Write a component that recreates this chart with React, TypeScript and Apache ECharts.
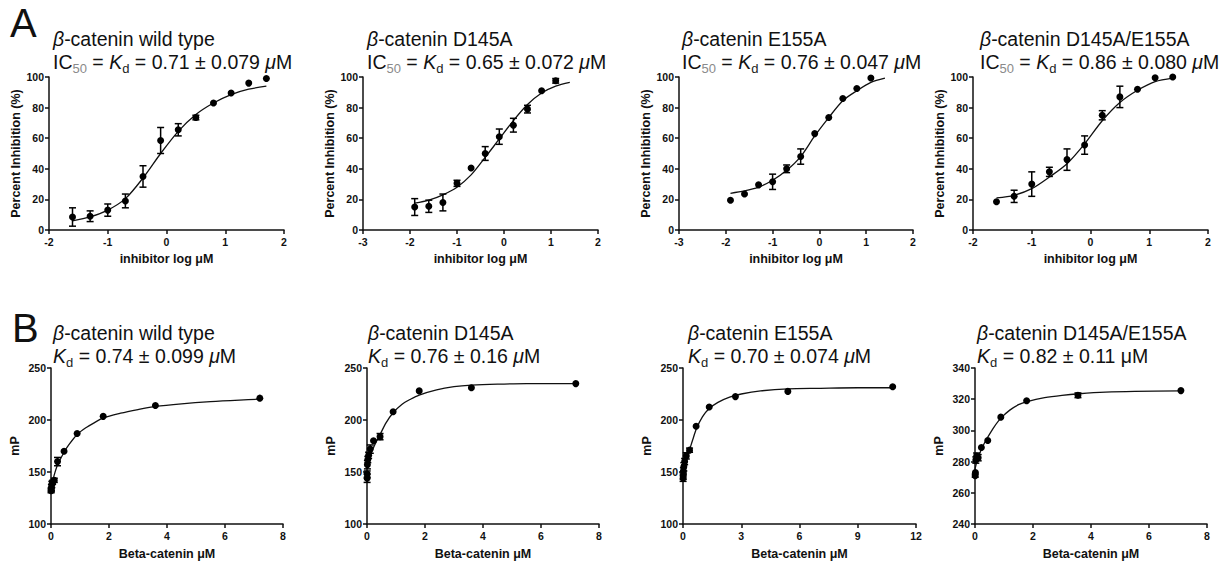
import React, { useEffect, useRef } from 'react';
import * as echarts from 'echarts';

const FONT = "'Liberation Sans', Arial, Helvetica, sans-serif";
const INK = '#111111';

// ---------- Panel A: inhibition (x = inhibitor log µM, y = % inhibition) ----------
const a1X = [-1.6, -1.3, -1.0, -0.7, -0.4, -0.1, 0.2, 0.5, 0.8, 1.1, 1.4, 1.7];
const a1Y = [8.5, 9, 13, 19, 35, 58.5, 65.5, 73.5, 83, 89.5, 96, 99];
const a1E = [6, 3.5, 4, 4.5, 7, 8.5, 4, 1.5, 0, 0, 0, 0];
const a1FitX = [-1.6, -1.3, -1.0, -0.7, -0.4, -0.1, 0.2, 0.5, 0.8, 1.1, 1.4, 1.7];
const a1FitY = [6, 8.5, 13, 20.5, 34, 50, 64.5, 75.5, 83, 88.5, 92, 94];

const a2X = [-1.9, -1.6, -1.3, -1.0, -0.7, -0.4, -0.1, 0.2, 0.5, 0.8, 1.1];
const a2Y = [15, 15.5, 18, 30.5, 40.5, 50, 61, 68.5, 79, 91, 97.5];
const a2E = [5.5, 4, 5.5, 2, 0, 4.5, 5, 4.5, 2.5, 0, 1.5];
const a2FitX = [-1.9, -1.6, -1.3, -1.0, -0.7, -0.4, -0.1, 0.2, 0.5, 0.8, 1.1, 1.4];
const a2FitY = [17.5, 19.5, 23, 28, 36, 47.5, 59.5, 71.5, 82, 89.5, 94, 96.5];

const a3X = [-1.9, -1.6, -1.3, -1.0, -0.7, -0.4, -0.1, 0.2, 0.5, 0.8, 1.1];
const a3Y = [19.5, 23.5, 29.5, 31.5, 40, 48, 63, 73.5, 86, 92.5, 99.3];
const a3E = [0, 0, 0, 5, 2.5, 5, 0, 0, 0, 0, 0];
const a3FitX = [-1.9, -1.6, -1.3, -1.0, -0.7, -0.4, -0.1, 0.2, 0.5, 0.8, 1.1, 1.4];
const a3FitY = [24, 25.5, 28, 32.5, 39, 48, 61.5, 73.5, 84.5, 91, 96.5, 99.3];

const a4X = [-1.6, -1.3, -1.0, -0.7, -0.4, -0.1, 0.2, 0.5, 0.8, 1.1, 1.4];
const a4Y = [18.5, 22, 30, 38, 46, 55.5, 75, 87, 92, 99.5, 100];
const a4E = [0, 4, 8, 3, 7, 6, 3, 7, 0, 0, 0];
const a4FitX = [-1.6, -1.3, -1.0, -0.7, -0.4, -0.1, 0.2, 0.5, 0.8, 1.1, 1.4];
const a4FitY = [21, 22.7, 27, 34.6, 43.3, 56.3, 71.4, 83.3, 91.3, 97, 99.3];

// ---------- Panel B: binding (x = Beta-catenin µM, y = mP) ----------
const b1X = [7.2, 3.6, 1.8, 0.9, 0.45, 0.225, 0.113, 0.056, 0.028, 0.014, 0.007, 0.0035];
const b1Y = [221, 214, 203.5, 187, 170, 160, 142, 140, 138, 135, 133, 132];
const b1E = [0, 0, 0, 0, 0, 4, 2, 2, 3, 3, 2, 2];
const b1FitX = [0, 0.05, 0.1, 0.2, 0.3, 0.45, 0.6, 0.9, 1.2, 1.5, 1.8, 2.4, 3, 3.6, 4.5, 5.5, 6.5, 7.2];
const b1FitY = [133, 140, 146, 155, 161, 169, 175.5, 186, 192.5, 197.5, 202, 206.5, 210, 213, 215.6, 217.7, 219.2, 220];

const b2X = [7.2, 3.6, 1.8, 0.9, 0.45, 0.225, 0.113, 0.056, 0.028, 0.014, 0.007, 0.0035];
const b2Y = [235, 231, 228, 208, 184, 180, 172, 166, 162, 157, 148, 144];
const b2E = [0, 0, 0, 0, 3, 0, 4, 3, 3, 4, 3, 4];
const b2FitX = [0, 0.05, 0.1, 0.2, 0.3, 0.45, 0.65, 0.9, 1.2, 1.5, 1.8, 2.4, 3.0, 3.6, 4.5, 5.5, 7.2];
const b2FitY = [155, 160, 165, 172, 178, 186, 197, 207, 215, 220, 224, 229, 232, 233.5, 234.5, 235, 235];

const b3X = [10.8, 5.4, 2.7, 1.35, 0.675, 0.3375, 0.169, 0.084, 0.042, 0.021, 0.0105, 0.005];
const b3Y = [232, 227.5, 222.5, 212.5, 194, 171, 165.5, 160, 155, 151, 146, 144];
const b3E = [0, 0, 0, 0, 0, 2, 3, 3, 4, 3, 3, 3];
const b3FitX = [0, 0.1, 0.2, 0.35, 0.5, 0.7, 1.0, 1.35, 1.8, 2.4, 3.0, 4.0, 5.4, 7.0, 9.0, 10.8];
const b3FitY = [146, 156, 163, 172, 181, 192, 203, 211, 217, 222, 225, 228, 230, 230.5, 231, 231];

const b4X = [7.1, 3.55, 1.78, 0.89, 0.44, 0.22, 0.11, 0.055, 0.028, 0.014, 0.007];
const b4Y = [325.5, 322.5, 319, 308.5, 293.5, 289, 282.5, 283.5, 281, 273, 271];
const b4E = [0, 1.5, 0, 0, 0, 0, 2, 2, 2, 0, 1];
const b4FitX = [0, 0.05, 0.1, 0.2, 0.3, 0.45, 0.65, 0.9, 1.2, 1.5, 1.8, 2.4, 3.0, 3.6, 4.5, 5.5, 7.1];
const b4FitY = [275, 279, 282, 287, 291, 296, 302, 308, 313, 316.5, 318.5, 321, 322.5, 323.5, 324.5, 325, 325.3];

// ---------- texts ----------
const titles = [
  '{it|β}-catenin wild type\nIC{s50|50} = {it|K}{sd|d} = 0.71 ± 0.079 {it|μ}M',
  '{it|β}-catenin D145A\nIC{s50|50} = {it|K}{sd|d} = 0.65 ± 0.072 {it|μ}M',
  '{it|β}-catenin E155A\nIC{s50|50} = {it|K}{sd|d} = 0.76 ± 0.047 {it|μ}M',
  '{it|β}-catenin D145A/E155A\nIC{s50|50} = {it|K}{sd|d} = 0.86 ± 0.080 {it|μ}M',
  '{it|β}-catenin wild type\n{it|K}{sd|d} = 0.74 ± 0.099 {it|μ}M',
  '{it|β}-catenin D145A\n{it|K}{sd|d} = 0.76 ± 0.16 {it|μ}M',
  '{it|β}-catenin E155A\n{it|K}{sd|d} = 0.70 ± 0.074 {it|μ}M',
  '{it|β}-catenin D145A/E155A\n{it|K}{sd|d} = 0.82 ± 0.11 μM',
];
const xNames = ['inhibitor log μM', 'Beta-catenin μM'];
const yNames = ['Percent Inhibition (%)', 'mP'];

// ---------- layout (pixels) ----------
const layout = [
  { left: 49, top: 77, width: 235, height: 153, tl: 53, tt: 28 },
  { left: 363, top: 77, width: 235, height: 153, tl: 367, tt: 28 },
  { left: 679, top: 77, width: 234, height: 153, tl: 682, tt: 28 },
  { left: 973, top: 77, width: 235, height: 153, tl: 980, tt: 28 },
  { left: 51, top: 368, width: 232, height: 156, tl: 53, tt: 322 },
  { left: 367, top: 368, width: 232, height: 156, tl: 368, tt: 322 },
  { left: 683, top: 368, width: 233, height: 156, tl: 688, tt: 322 },
  { left: 975, top: 368, width: 232, height: 156, tl: 977, tt: 322 },
];

const panels = [
  { x: a1X, y: a1Y, e: a1E, fx: a1FitX, fy: a1FitY, xr: [-2, 2, 1], yr: [0, 100, 20], row: 0 },
  { x: a2X, y: a2Y, e: a2E, fx: a2FitX, fy: a2FitY, xr: [-3, 2, 1], yr: [0, 100, 20], row: 0 },
  { x: a3X, y: a3Y, e: a3E, fx: a3FitX, fy: a3FitY, xr: [-3, 2, 1], yr: [0, 100, 20], row: 0 },
  { x: a4X, y: a4Y, e: a4E, fx: a4FitX, fy: a4FitY, xr: [-2, 2, 1], yr: [0, 100, 20], row: 0 },
  { x: b1X, y: b1Y, e: b1E, fx: b1FitX, fy: b1FitY, xr: [0, 8, 2], yr: [100, 250, 50], row: 1 },
  { x: b2X, y: b2Y, e: b2E, fx: b2FitX, fy: b2FitY, xr: [0, 8, 2], yr: [100, 250, 50], row: 1 },
  { x: b3X, y: b3Y, e: b3E, fx: b3FitX, fy: b3FitY, xr: [0, 12, 3], yr: [100, 250, 50], row: 1 },
  { x: b4X, y: b4Y, e: b4E, fx: b4FitX, fy: b4FitY, xr: [0, 8, 2], yr: [240, 340, 20], row: 1 },
];

const LH = 22.5;
const rich = {
  it: { fontStyle: 'italic', fontSize: 19.5, fontFamily: FONT, color: INK, lineHeight: LH },
  s50: { fontSize: 13, fontFamily: FONT, color: '#8a8a8a', lineHeight: 13, padding: [7, 0, -7, 0] },
  sd: { fontSize: 13, fontFamily: FONT, color: '#222', lineHeight: 13, padding: [7, 0, -7, 0] },
};

function buildOption() {
  const grid: any[] = [];
  const xAxis: any[] = [];
  const yAxis: any[] = [];
  const series: any[] = [];
  const title: any[] = [];
  const axisLine = { show: true, onZero: false, lineStyle: { color: INK, width: 1.5 } };
  const axisTick = { show: true, length: 4, lineStyle: { color: INK, width: 1.5 } };
  const labelStyle = { color: INK, fontFamily: FONT, fontWeight: 'bold', fontSize: 10.5 };
  const nameStyle = { color: INK, fontFamily: FONT, fontWeight: 'bold', fontSize: 12.5 };

  panels.forEach((p, i) => {
    const L = layout[i];
    grid.push({ left: L.left, top: L.top, width: L.width, height: L.height, containLabel: false });
    xAxis.push({
      type: 'value', gridIndex: i, min: p.xr[0], max: p.xr[1], interval: p.xr[2],
      axisLine, axisTick, splitLine: { show: false },
      axisLabel: { ...labelStyle, margin: 6 },
      name: xNames[p.row], nameLocation: 'middle', nameGap: p.row === 0 ? 22 : 23,
      nameTextStyle: nameStyle,
    });
    yAxis.push({
      type: 'value', gridIndex: i, min: p.yr[0], max: p.yr[1], interval: p.yr[2],
      axisLine, axisTick, splitLine: { show: false },
      axisLabel: { ...labelStyle, margin: 5 },
      name: yNames[p.row], nameLocation: 'middle', nameGap: p.row === 0 ? 23 : 30,
      nameTextStyle: nameStyle,
    });
    series.push({
      type: 'line', xAxisIndex: i, yAxisIndex: i,
      data: p.fx.map((x, k) => [x, p.fy[k]]),
      showSymbol: false, smooth: 0.3,
      lineStyle: { color: INK, width: 1.3 }, z: 2, silent: true,
    });
    series.push({
      type: 'scatter', xAxisIndex: i, yAxisIndex: i, z: 3, silent: true,
      data: p.x.map((x, k) => [x, p.y[k]]),
      symbol: 'circle', symbolSize: 7, itemStyle: { color: '#000', opacity: 1 },
    });
    series.push({
      type: 'custom', xAxisIndex: i, yAxisIndex: i, z: 4, silent: true,
      encode: { x: 0, y: 1 },
      data: p.x.map((x, k) => [x, p.y[k], p.e[k]]).filter((d) => d[2] > 0),
      renderItem: (params: any, api: any) => {
        const x = api.value(0), y = api.value(1), e = api.value(2);
        const hi = api.coord([x, y + e]);
        const lo = api.coord([x, y - e]);
        const c = 3.5;
        const style = { stroke: '#000', lineWidth: 1.5 };
        return {
          type: 'group',
          children: [
            { type: 'line', shape: { x1: hi[0], y1: hi[1], x2: lo[0], y2: lo[1] }, style },
            { type: 'line', shape: { x1: hi[0] - c, y1: hi[1], x2: hi[0] + c, y2: hi[1] }, style },
            { type: 'line', shape: { x1: lo[0] - c, y1: lo[1], x2: lo[0] + c, y2: lo[1] }, style },
          ],
        };
      },
    });
    title.push({
      text: titles[i], left: L.tl, top: L.tt, padding: 0,
      textStyle: { fontSize: 19.5, fontWeight: 'normal', fontFamily: FONT, color: INK, lineHeight: LH, rich },
    });
  });

  return {
    animation: false,
    backgroundColor: '#ffffff',
    title,
    grid,
    xAxis,
    yAxis,
    series,
    graphic: [
      { type: 'text', left: 10, top: 3, style: { text: 'A', font: `normal 40px ${FONT}`, fill: INK } },
      { type: 'text', left: 12, top: 308, style: { text: 'B', font: `normal 40px ${FONT}`, fill: INK } },
    ],
  };
}

export default function App() {
  const ref = useRef<HTMLDivElement>(null);
  useEffect(() => {
    if (!ref.current) return;
    const chart = echarts.init(ref.current, undefined, { renderer: 'svg' });
    chart.setOption(buildOption() as any);
    return () => chart.dispose();
  }, []);
  return (
    <div
      ref={ref}
      style={{ position: 'fixed', left: 0, top: 0, width: 1222, height: 562, background: '#fff' }}
    />
  );
}
